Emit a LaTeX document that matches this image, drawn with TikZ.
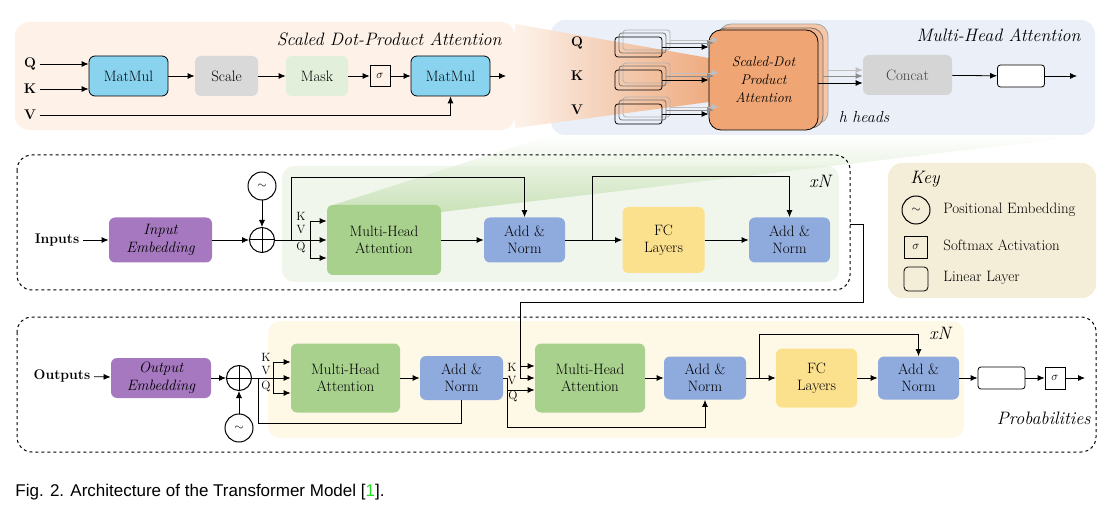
\documentclass[tikz,border=0pt]{standalone}
\usepackage{fontspec}
\newfontfamily\capfont{Liberation Sans}
\usetikzlibrary{positioning, arrows.meta}
\definecolor{peachbg}{HTML}{FDF1E8}
\definecolor{bluebg}{HTML}{EAEFF8}
\definecolor{greenbg}{HTML}{F1F6EC}
\definecolor{yellowbg}{HTML}{FEF8E6}
\definecolor{keybg}{HTML}{F4EDD8}
\definecolor{skyblue}{HTML}{89D3EE}
\definecolor{scalegray}{HTML}{D9D9D9}
\definecolor{maskgreen}{HTML}{E2EFDA}
\definecolor{sdpaorange}{HTML}{EFA574}
\definecolor{sdpamid}{HTML}{F2B48D}
\definecolor{sdpaback}{HTML}{F5C7A8}
\definecolor{concatgray}{HTML}{D5D5D5}
\definecolor{embpurple}{HTML}{A678BF}
\definecolor{mhagreen}{HTML}{A9D18E}
\definecolor{normblue}{HTML}{8FAADC}
\definecolor{fcyellow}{HTML}{FBE18E}
\definecolor{citegreen}{HTML}{22DD22}

\begin{document}
\begin{tikzpicture}[x=1pt, y=-1pt, line width=0.8pt,
  txt/.style={font=\fontsize{15}{17}\selectfont, inner sep=0pt, align=center},
  blk/.style={txt, rounded corners=6pt},
  emb/.style={blk, fill=embpurple, font=\fontsize{15}{18}\selectfont\itshape},
  lbl/.style={font=\fontsize{14}{16}\selectfont\bfseries},
  kvq/.style={font=\fontsize{12}{12}\selectfont, inner sep=0pt},
  ttl/.style={font=\fontsize{18}{20}\selectfont\itshape, inner sep=0pt},
  arr/.style={-{Latex[length=7pt, width=6pt]}},
  sumnode/.style={circle, draw, line width=1pt, minimum size=25pt, inner sep=0pt},
  posnode/.style={circle, draw, line width=1pt, minimum size=28pt, inner sep=0pt, font=\fontsize{13}{13}\selectfont},
  linbox/.style={draw, rounded corners=3pt, minimum width=47pt, minimum height=22pt, inner sep=0pt},
  sigbox/.style={draw, minimum width=20pt, minimum height=21pt, inner sep=0pt, font=\fontsize{13}{13}\selectfont}]
  \useasboundingbox (0,0) rectangle (1117,513);

  % scaled dot-product attention
  \fill [peachbg, rounded corners=14pt] (15,22) rectangle (515,130);
  \node [ttl, anchor=east] (sdtitle) at (502,39) {Scaled Dot-Product Attention};
  \node [lbl] (sq) at (30,64) {Q};
  \node [lbl] (sk) at (30,89) {K};
  \node [lbl] (sv) at (30,115) {V};
  \node [blk, draw, fill=skyblue, minimum width=79pt, minimum height=40pt] (mm1) at (128.5,76) {MatMul};
  \node [blk, fill=scalegray, minimum width=63pt, minimum height=40pt] (scale) at (226.5,76) {Scale};
  \node [blk, fill=maskgreen, minimum width=62pt, minimum height=40pt] (mask) at (317,76) {Mask};
  \node [sigbox] (sig) at (380,76) {$\sigma$};
  \node [blk, draw, fill=skyblue, minimum width=79pt, minimum height=40pt] (mm2) at (450.5,76) {MatMul};
  \coordinate (sdout) at (506,76);
  \draw [arr] (sq.east) -- (sq.east -| mm1.west);
  \draw [arr] (sk.east) -- (sk.east -| mm1.west);
  \draw [arr] (sv.east) -| (mm2.south);
  \draw [arr] (mm1) -- (scale);
  \draw [arr] (scale) -- (mask);
  \draw [arr] (mask) -- (sig);
  \draw [arr] (sig) -- (mm2);
  \draw [arr] (mm2) -- (sdout);

  % multi-head attention
  \fill [bluebg, rounded corners=14pt] (551,20) rectangle (1095,135);
  \shade [left color=peachbg, right color=sdpaorange, opacity=0.9] (515,24) -- (709,58) -- (709,102) -- (515,128) -- cycle;
  \node [ttl, anchor=east] (mhtitle) at (1081,35) {Multi-Head Attention};
  \node [blk, draw=black!35, fill=sdpaback, rounded corners=12pt, minimum width=109pt, minimum height=100pt] (sdpa2) at (773.5,74) {};
  \node [blk, draw=black!55, fill=sdpamid, rounded corners=12pt, minimum width=109pt, minimum height=100pt] (sdpa1) at (768.5,78) {};
  \node [blk, draw, fill=sdpaorange, rounded corners=12pt, minimum width=109pt, minimum height=100pt,
    font=\fontsize{14}{18}\selectfont\itshape] (sdpa) at (763.5,80) {Scaled-Dot\\Product\\Attention};
  \foreach \r/\y/\n in {q/47/Q, k/80/K, v/114/V} {
    \node [lbl] (m\r) at (577,\y-4) {\n};
    \node [linbox, draw=black!30, minimum height=20pt] (lin\r b) at (646.5,\y-7) {};
    \node [linbox, draw=black!55, minimum height=20pt] (lin\r m) at (642.5,\y-4) {};
    \node [linbox, minimum height=20pt] (lin\r) at (638.5,\y) {};
    \draw [arr, black!25] (lin\r b.east) -- (719,\y-7);
    \draw [arr, black!45] (lin\r m.east) -- (714,\y-4);
    \draw [arr] (lin\r) -- (lin\r -| sdpa.west);
  }
  \node [blk, fill=concatgray, text=black!75, minimum width=89pt, minimum height=40pt] (concat) at (907.5,75) {Concat};
  \node [linbox, fill=white] (mlin) at (1021,76) {};
  \coordinate (mhout) at (1077,76);
  \draw [arr, black!25] (828,70) -- (concat.west |- 0,70);
  \draw [arr, black!45] (823,76) -- (concat.west |- 0,76);
  \draw [arr] (sdpa.east |- 0,83) -- (concat.west |- 0,83);
  \draw [arr] (concat) -- (mlin);
  \draw [arr] (mlin) -- (mhout);
  \node [font=\fontsize{16}{18}\selectfont\itshape, inner sep=0pt] (heads) at (864,117) {h heads};

  % encoder
  \fill [greenbg, rounded corners=12pt] (282,166) rectangle (839,282);
  \shade [top color=white, bottom color=mhagreen!80, opacity=0.7] (327,207) -- (551,135) -- (1095,135) -- (441,212) -- cycle;
  \draw [dashed, line width=1pt, rounded corners=15pt] (17,155) rectangle (850,290);
  \node [lbl] (inputs) at (57,240) {Inputs};
  \node [emb, minimum width=103pt, minimum height=45pt] (inemb) at (160.5,240) {Input\\Embedding};
  \node [sumnode] (encsum) at (262,240) {};
  \draw [line width=1pt] (encsum.north) -- (encsum.south) (encsum.west) -- (encsum.east);
  \node [posnode] (encpos) at (262,186) {$\sim$};
  \node [blk, fill=mhagreen, minimum width=114pt, minimum height=70pt] (encmha) at (384,240) {Multi-Head\\Attention};
  \node [blk, fill=normblue, minimum width=81pt, minimum height=45pt] (encan1) at (524.5,240) {Add \&\\Norm};
  \node [blk, fill=fcyellow, minimum width=82pt, minimum height=66pt] (encfc) at (663.5,240) {FC\\Layers};
  \node [blk, fill=normblue, minimum width=81pt, minimum height=45pt] (encan2) at (789.5,240) {Add \&\\Norm};
  \node [ttl] (encxn) at (820,181) {xN};
  \node [kvq] (enckl) at (301,216) {K};
  \node [kvq] (encvl) at (301,230) {V};
  \node [kvq] (encql) at (301,247) {Q};
  \coordinate (encres) at (291,240);
  \coordinate (enck) at (310,221);
  \coordinate (encq) at (310,258);
  \coordinate (encres2) at (592,240);
  \coordinate (encout) at (850,224);
  \draw [arr] (inputs) -- (inemb);
  \draw [arr] (inemb) -- (encsum);
  \draw [arr] (encpos) -- (encsum);
  \draw (encsum) -- (encres);
  \draw [arr] (encres) -- (encmha);
  \draw (enck) -- (encq);
  \draw [arr] (enck) -- (enck -| encmha.west);
  \draw [arr] (encq) -- (encq -| encmha.west);
  \draw [arr] (encres) -- ++(0,-63) -| (encan1.north);
  \draw [arr] (encmha) -- (encan1);
  \draw [arr] (encan1) -- (encfc);
  \draw [arr] (encres2) -- ++(0,-64) -| (encan2.north);
  \draw [arr] (encfc) -- (encan2);

  % key
  \fill [keybg, rounded corners=14pt] (888,163) rectangle (1096,298);
  \node [ttl] (keyttl) at (925,179) {Key};
  \node [posnode] (keypos) at (916,210) {$\sim$};
  \node [txt, anchor=west] (keypostxt) at (943,210) {Positional Embedding};
  \node [sigbox, minimum width=23pt, minimum height=22pt] (keysig) at (916,247) {$\sigma$};
  \node [txt, anchor=west] (keysigtxt) at (943,245) {Softmax Activation};
  \node [linbox, minimum width=24pt, minimum height=24pt, rounded corners=4pt] (keylin) at (916,279) {};
  \node [txt, anchor=west] (keylintxt) at (943,278) {Linear Layer};

  % decoder
  \fill [yellowbg, rounded corners=12pt] (268,321) rectangle (964,438);
  \draw [dashed, line width=1pt, rounded corners=15pt] (17,317) rectangle (1096,452);
  \node [lbl] (outputs) at (62,376) {Outputs};
  \node [emb, minimum width=100pt, minimum height=40pt] (outemb) at (161,378) {Output\\Embedding};
  \node [sumnode] (decsum) at (239,378) {};
  \draw [line width=1pt] (decsum.north) -- (decsum.south) (decsum.west) -- (decsum.east);
  \node [posnode] (decpos) at (239,428) {$\sim$};
  \node [blk, fill=mhagreen, minimum width=109pt, minimum height=69pt] (decmha1) at (345.5,378) {Multi-Head\\Attention};
  \node [blk, fill=normblue, minimum width=83pt, minimum height=44pt] (decan1) at (461.5,378) {Add \&\\Norm};
  \node [blk, fill=mhagreen, minimum width=110pt, minimum height=69pt] (decmha2) at (590,378) {Multi-Head\\Attention};
  \node [blk, fill=normblue, minimum width=82pt, minimum height=43pt] (decan2) at (705,378) {Add \&\\Norm};
  \node [blk, fill=fcyellow, minimum width=81pt, minimum height=59pt] (decfc) at (816.5,378) {FC\\Layers};
  \node [blk, fill=normblue, minimum width=81pt, minimum height=43pt] (decan3) at (918.5,378) {Add \&\\Norm};
  \node [linbox, fill=white] (declin) at (1001.5,378) {};
  \node [sigbox, minimum height=22pt] (decsoft) at (1055,378) {$\sigma$};
  \node [ttl] (decxn) at (940,333) {xN};
  \node [ttl, anchor=east] (probs) at (1091,418) {Probabilities};
  \node [kvq] (deckl1) at (266,357) {K};
  \node [kvq] (decvl1) at (266,371) {V};
  \node [kvq] (decql1) at (266,386) {Q};
  \node [kvq] (deckl2) at (512,367) {K};
  \node [kvq] (decvl2) at (512,381) {V};
  \node [kvq] (decql2) at (513,396) {Q};
  \coordinate (decres) at (258,378);
  \coordinate (deck1) at (273,362);
  \coordinate (decq1) at (273,393);
  \coordinate (decres2) at (507,378);
  \coordinate (decq2) at (507,390);
  \coordinate (deck2) at (520,366);
  \coordinate (decv2) at (520,378);
  \coordinate (decres3) at (759,378);
  \coordinate (probout) at (1085,378);
  \draw [arr] (outputs) -- (outemb);
  \draw [arr] (outemb) -- (decsum);
  \draw [arr] (decpos) -- (decsum);
  \draw (decsum) -- (decres);
  \draw [arr] (decres) -- (decmha1);
  \draw (decres) -- ++(0,45) -| (decan1.south);
  \draw (deck1) -- (decq1);
  \draw [arr] (deck1) -- (deck1 -| decmha1.west);
  \draw [arr] (decq1) -- (decq1 -| decmha1.west);
  \draw [arr] (decmha1) -- (decan1);
  \draw (decan1) -- (decres2);
  \draw [arr] (decres2) -- ++(0,49) -| (decan2.south);
  \draw [arr] (decq2) -- (decq2 -| decmha2.west);
  \draw [arr] (encout) -| ++(13,78) -| (decv2) -- (decv2 -| decmha2.west);
  \draw [arr] (deck2) -- (deck2 -| decmha2.west);
  \draw [arr] (decmha2) -- (decan2);
  \draw [arr] (decan2) -- (decfc);
  \draw [arr] (decres3) -- ++(0,-44) -| (decan3.north);
  \draw [arr] (decfc) -- (decan3);
  \draw [arr] (decan3) -- (declin);
  \draw [arr] (declin) -- (decsoft);
  \draw [arr] (decsoft) -- (probout);

  \node [anchor=west, inner sep=0pt, font=\capfont\fontsize{17}{19}\selectfont] (caption) at (15,492)
    {Fig. 2. Architecture of the Transformer Model [\textcolor{citegreen}{1}].};
\end{tikzpicture}
\end{document}
